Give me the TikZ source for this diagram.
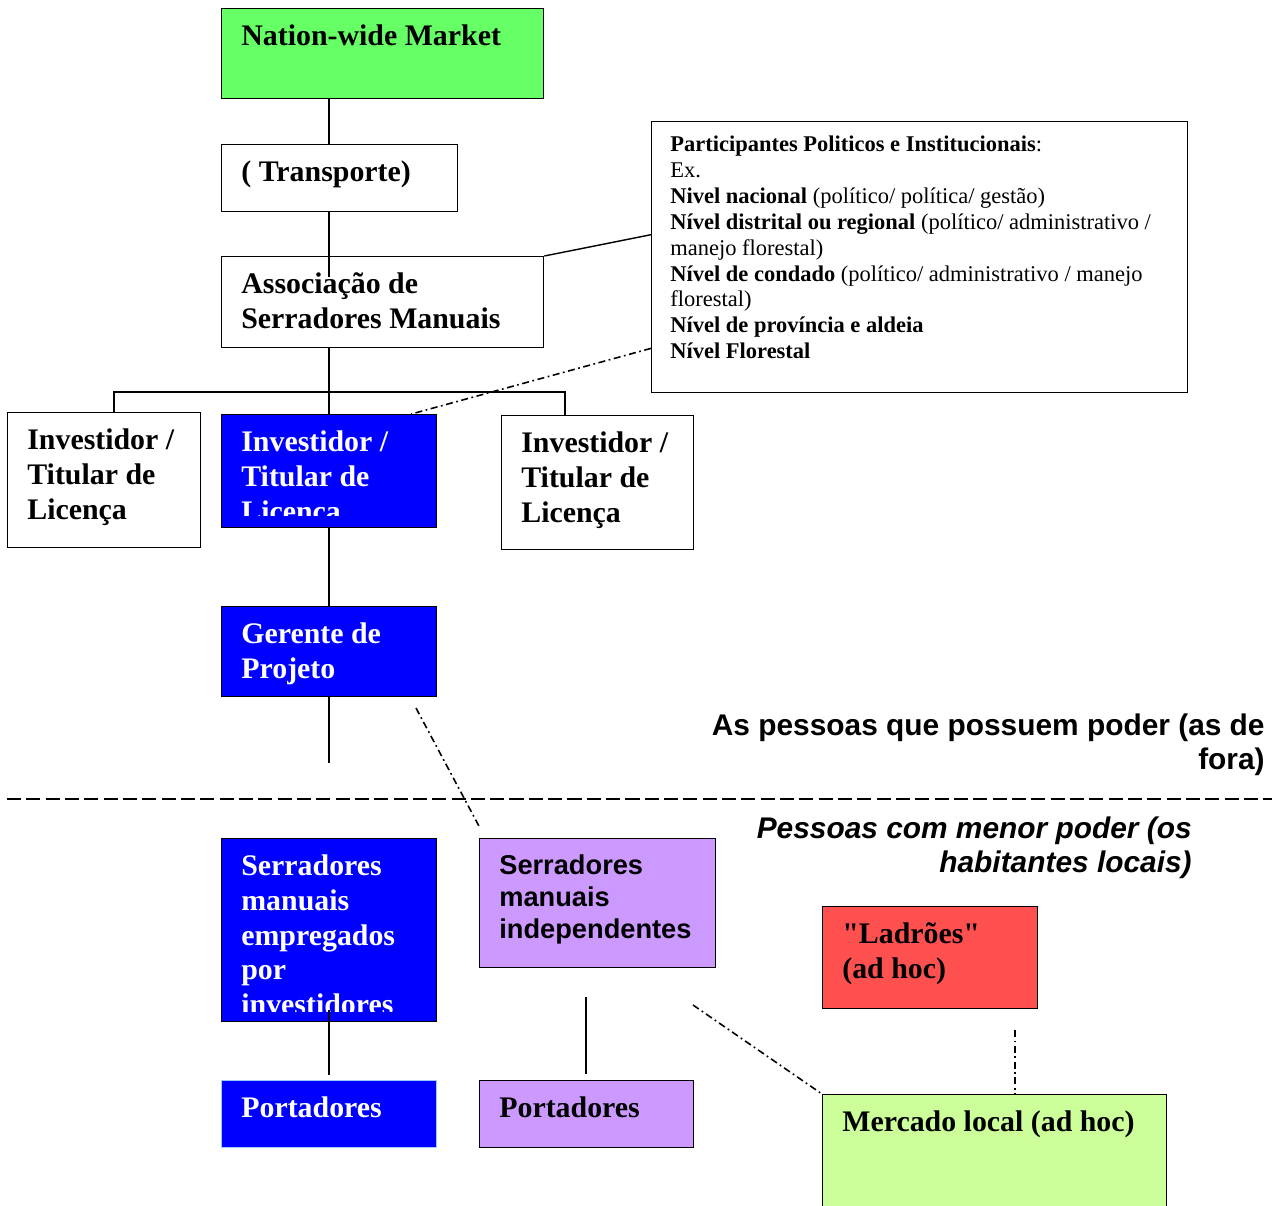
\documentclass[tikz,border=0pt]{standalone}
\usepackage{fontspec}
\setmainfont{Liberation Serif}
\setsansfont{Liberation Sans}
\definecolor{nationgreen}{HTML}{66FF66}
\definecolor{localgreen}{HTML}{CCFF99}
\definecolor{powerblue}{HTML}{0000FF}
\definecolor{edgeblue}{HTML}{99CCFF}
\definecolor{indeppurple}{HTML}{CC99FF}
\definecolor{thiefred}{HTML}{FF5050}
\begin{document}
\begin{tikzpicture}[x=0.02cm, y=-0.02cm]
    \tikzset{
        box/.style={draw, line width=0.8pt, anchor=north west, inner sep=0pt},
        txt/.style={anchor=north west, inner xsep=0.4cm, inner ysep=0.33cm, align=left, font=\bfseries\fontsize{17}{19.8}\selectfont},
        sanstxt/.style={txt, font=\sffamily\bfseries\fontsize{15.5}{18.1}\selectfont},
        smalltxt/.style={txt, inner xsep=0.38cm, inner ysep=0.3cm, font=\fontsize{12.8}{14.7}\selectfont},
        conn/.style={line width=0.8pt},
        dashdot/.style={line width=0.9pt, dash pattern=on 4pt off 2pt on 1pt off 2pt}
    }
    \clip (0,0) rectangle (1272,1205);

    % upper part: the people with power
    \node[box, fill=nationgreen, minimum width=6.44cm, minimum height=1.8cm] (nation) at (221,8) {};
    \node[box, minimum width=4.72cm, minimum height=1.34cm] (transp) at (221,144) {};
    \node[box, minimum width=6.44cm, minimum height=1.82cm] (assoc) at (221,256) {};
    \node[box, minimum width=10.72cm, minimum height=5.42cm] (part) at (651,121) {};
    \node[box, minimum width=3.86cm, minimum height=2.7cm] (invL) at (7,412) {};
    \node[box, fill=powerblue, minimum width=4.3cm, minimum height=2.26cm] (invB) at (221,414) {};
    \node[box, minimum width=3.84cm, minimum height=2.68cm] (invR) at (501,415) {};
    \node[box, fill=powerblue, minimum width=4.3cm, minimum height=1.8cm] (ger) at (221,606) {};

    % lower part: the local people
    \node[box, fill=powerblue, minimum width=4.3cm, minimum height=3.66cm] (serrB) at (221,838) {};
    \node[box, draw=edgeblue, fill=powerblue, minimum width=4.3cm, minimum height=1.34cm] (portB) at (221,1080) {};
    \node[box, fill=indeppurple, minimum width=4.72cm, minimum height=2.58cm] (serrP) at (479,838) {};
    \node[box, fill=indeppurple, minimum width=4.28cm, minimum height=1.34cm] (portP) at (479,1080) {};
    \node[box, fill=thiefred, minimum width=4.3cm, minimum height=2.04cm] (ladr) at (822,906) {};
    \node[box, fill=localgreen, minimum width=6.88cm, minimum height=2.4cm] (merc) at (822,1094) {};

    \node[txt] at (nation.north west) {Nation-wide Market};
    \node[txt] at (transp.north west) {( Transporte)};
    \node[txt] at (assoc.north west) {Associação de\\Serradores Manuais};
    \node[smalltxt] at (part.north west) {\textbf{Participantes Politicos e Institucionais}:\\
        Ex.\\
        \textbf{Nivel nacional} (político/ política/ gestão)\\
        \textbf{Nível distrital ou regional} (político/ administrativo /\\
        manejo florestal)\\
        \textbf{Nível de condado} (político/ administrativo / manejo\\
        florestal)\\
        \textbf{Nível de província e aldeia}\\
        \textbf{Nível Florestal}};
    \node[txt] at (invL.north west) {Investidor /\\Titular de\\Licença};
    \begin{scope}
        \clip (invB.north west) rectangle ([yshift=0.26cm]invB.south east);
        \node[txt, white] at (invB.north west) {Investidor /\\Titular de\\Licença};
    \end{scope}
    \node[txt] at (invR.north west) {Investidor /\\Titular de\\Licença};
    \node[txt, white] at (ger.north west) {Gerente de\\Projeto};
    \begin{scope}
        \clip (serrB.north west) rectangle ([yshift=0.22cm]serrB.south east);
        \node[txt, white] at (serrB.north west) {Serradores\\manuais\\empregados\\por\\investidores};
    \end{scope}
    \node[txt, white] at (portB.north west) {Portadores};
    \node[sanstxt] at (serrP.north west) {Serradores\\manuais\\independentes};
    \node[txt] at (portP.north west) {Portadores};
    \node[txt] at (ladr.north west) {\textquotedbl Ladrões\textquotedbl\\(ad hoc)};
    \node[txt] at (merc.north west) {Mercado local (ad hoc)};

    \node[anchor=north east, inner sep=0pt, align=right, font=\sffamily\bfseries\fontsize{17}{19.8}\selectfont] (powerlbl) at (1265,713) {As pessoas que possuem poder (as de\\fora)};
    \node[anchor=north east, inner sep=0pt, align=right, font=\sffamily\bfseries\itshape\fontsize{17}{19.8}\selectfont] (locallbl) at (1192,816) {Pessoas com menor poder (os\\habitantes locais)};

    % connectors
    \coordinate (spine) at (329,0);
    \coordinate (associn) at (329,277);
    \coordinate (busL) at (114,392);
    \coordinate (busR) at (565,392);
    \coordinate (spineend) at (329,763);
    \coordinate (serrBin) at (329,1010);
    \coordinate (portBup) at (329,1075);
    \coordinate (indepdown) at (586,997);
    \coordinate (portPup) at (586,1074);
    \coordinate (gerout) at (416,708);
    \coordinate (indepin) at (480,828);
    \coordinate (indepout) at (693,1005);
    \coordinate (ladrout) at (1015,1030);
    \coordinate (lineL) at (7,799);
    \coordinate (lineR) at (1272,799);

    \draw[conn] (nation.south -| spine) -- (transp.north -| spine);
    \draw[conn] (transp.south -| spine) -- (associn);
    \draw[conn] (assoc.south -| spine) -- (invB.north -| spine);
    \draw[conn] (invL.north -| busL) -- (busL) -- (busR) -- (invR.north -| busR);
    \draw[conn] (invB.south -| spine) -- (ger.north -| spine);
    \draw[conn] (ger.south -| spine) -- (spineend);
    \draw[conn] (serrBin) -- (portBup);
    \draw[conn] (indepdown) -- (portPup);
    \draw[conn] (assoc.north east) -- ([yshift=0.45cm]part.west);

    \draw[dashdot] ([yshift=0.9cm]part.south west) -- ([xshift=-0.52cm]invB.north east);
    \draw[dashdot] (gerout) -- (indepin);
    \draw[dashdot] (indepout) -- (merc.north west);
    \draw[dashdot] (ladrout) -- (ladrout |- merc.north);
    \draw[line width=0.8pt, dash pattern=on 8pt off 3pt] (lineL) -- (lineR);
\end{tikzpicture}
\end{document}
